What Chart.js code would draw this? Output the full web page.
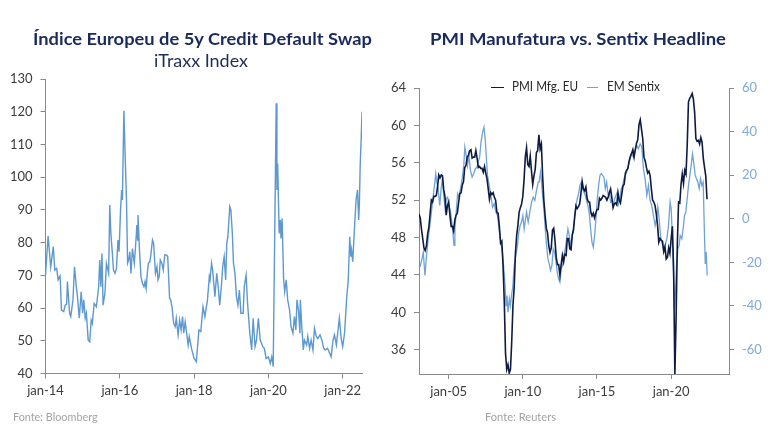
<!DOCTYPE html>
<html><head><meta charset="utf-8">
<script src="https://cdn.jsdelivr.net/npm/chart.js@4"></script>
<style>
html,body{margin:0;padding:0;background:#fff;width:768px;height:432px;overflow:hidden;font-family:Lato,"Open Sans",sans-serif;}
.t{position:absolute;white-space:nowrap;transform-origin:left top;line-height:1.2;}
canvas{position:absolute;top:0;}
.lg{position:absolute;height:1.6px;}
</style></head><body>
<canvas id="c1" width="384" height="432" style="left:0"></canvas>
<canvas id="c2" width="384" height="432" style="left:384px"></canvas>
<div id="t1" class="t" style="font-weight:700;font-size:17px;color:#1a2a5c">Índice Europeu de 5y Credit Default Swap</div>
<div id="t1s" class="t" style="font-weight:400;font-size:18px;color:#1f2d5c">iTraxx Index</div>
<div id="t2" class="t" style="font-weight:700;font-size:17px;color:#1a2a5c">PMI Manufatura vs. Sentix Headline</div>
<div id="f1" class="t" style="font-size:12px;color:#a3a3a3">Fonte: Bloomberg</div>
<div id="f2" class="t" style="font-size:12px;color:#a3a3a3">Fonte: Reuters</div>
<div id="l1" class="lg" style="left:491px;top:86.5px;width:13px;background:#0e1b40"></div>
<div id="lt1" class="t" style="font-size:13px;color:#2a2a2a">PMI Mfg. EU</div>
<div id="l2" class="lg" style="left:587px;top:86.5px;width:11px;background:#6fa3d6"></div>
<div id="lt2" class="t" style="font-size:13px;color:#2a2a2a">EM Sentix</div>
<script>
// ---------- Data: iTraxx Europe 5y (left chart) ----------
const itraxxDates = [2014.00,2014.07,2014.14,2014.21,2014.25,2014.30,2014.34,2014.39,2014.40,2014.43,2014.49,2014.53,2014.57,2014.59,2014.65,2014.68,2014.74,2014.78,2014.83,2014.86,2014.91,2014.96,
2015.00,2015.03,2015.07,2015.10,2015.15,2015.19,2015.23,2015.26,2015.31,2015.37,2015.43,2015.46,2015.49,2015.52,2015.55,2015.60,2015.64,2015.70,2015.73,2015.76,2015.80,2015.83,2015.87,2015.91,2015.95,2015.98,
2016.02,2016.05,2016.07,2016.11,2016.14,2016.18,2016.21,2016.24,2016.27,2016.30,2016.34,2016.39,2016.42,2016.46,2016.48,2016.49,2016.53,2016.57,2016.61,2016.65,2016.68,2016.71,2016.74,2016.77,2016.81,2016.83,2016.88,2016.91,2016.96,
2017.00,2017.03,2017.06,2017.09,2017.13,2017.17,2017.21,2017.26,2017.29,2017.34,2017.37,2017.41,2017.45,2017.49,2017.52,2017.57,2017.61,2017.65,2017.69,2017.72,2017.76,2017.80,2017.84,2017.87,2017.93,
2018.00,2018.06,2018.13,2018.18,2018.24,2018.29,2018.36,2018.41,2018.43,2018.47,2018.50,2018.56,2018.61,2018.65,2018.69,2018.74,2018.77,2018.81,2018.85,2018.88,2018.91,2018.96,2018.99,
2019.03,2019.06,2019.10,2019.14,2019.18,2019.22,2019.26,2019.32,2019.35,2019.40,2019.44,2019.50,2019.55,2019.59,2019.64,2019.68,2019.73,2019.78,2019.85,2019.89,2019.94,
2020.00,2020.05,2020.09,2020.13,2020.21,2020.23,2020.25,2020.29,2020.32,2020.34,2020.37,2020.41,2020.44,2020.48,2020.52,2020.57,2020.61,2020.66,2020.70,2020.74,2020.77,2020.81,2020.85,2020.86,2020.90,2020.94,2020.97,
2021.03,2021.06,2021.11,2021.15,2021.20,2021.24,2021.29,2021.33,2021.39,2021.44,2021.49,2021.53,2021.59,2021.65,2021.69,2021.74,2021.78,2021.83,2021.91,2021.96,
2022.00,2022.05,2022.11,2022.15,2022.19,2022.22,2022.24,2022.27,2022.32,2022.36,2022.40,2022.43,2022.45,2022.47,2022.50,2022.52];
const itraxxValues = [70.1,82.0,72.6,78.8,71.6,72.1,68.6,69.8,68.1,59.4,58.9,60.9,61.2,68.1,58.4,57.4,62.5,72.6,66.5,63.5,56.9,65.0,
58.4,62.5,56.9,58.4,50.2,49.7,56.3,55.3,61.4,60.4,66.5,74.7,66.5,76.7,60.9,64.5,73.7,70.6,91.5,82.8,76.7,71.6,70.6,72.1,80.8,77.2,
90.0,96.1,93.0,120.3,108.3,93.0,73.7,74.7,77.2,70.6,78.2,73.7,78.2,85.4,80.8,88.4,77.7,69.6,67.5,66.5,68.1,66.0,70.6,73.7,74.2,75.7,80.8,79.8,70.6,
72.6,68.6,69.6,74.7,73.7,71.6,76.2,76.2,75.7,63.0,62.5,59.9,55.3,54.3,56.9,51.8,56.3,53.3,57.4,52.3,55.8,52.3,48.7,51.3,47.7,
44.6,43.6,53.3,52.8,60.4,57.4,62.5,69.6,68.6,73.7,71.6,63.5,70.6,66.5,60.9,67.5,72.6,75.7,68.6,79.8,81.8,91.0,90.0,
82.8,73.7,70.6,63.5,60.9,65.5,58.4,58.4,66.5,70.1,61.4,52.3,47.2,56.9,48.2,50.2,56.9,50.2,48.2,47.7,44.6,
45.1,43.1,45.1,42.1,122.6,96.1,104.2,82.8,86.9,81.3,87.4,68.6,65.0,68.6,62.5,59.4,54.3,52.3,57.4,53.3,62.5,59.4,52.3,62.5,54.3,47.2,50.2,
48.7,51.3,47.7,50.2,47.2,53.8,51.3,50.7,51.8,50.2,47.7,47.2,47.7,46.2,45.1,50.2,51.8,48.7,56.9,50.7,
48.2,52.3,63.5,68.6,81.8,75.7,77.7,74.2,84.9,93.0,96.1,86.9,92.0,103.2,112.4,120.0];
const itraxxYTicks = [40,50,60,70,80,90,100,110,120,130];
const itraxxXTicks = [2014,2016,2018,2020,2022];
const itraxxXLabels = ['jan-14','jan-16','jan-18','jan-20','jan-22'];

// ---------- Data: PMI Manufacturing EU (monthly, from Jan 2003) ----------
const pmiStartYear = 2003;
const pmiValues = [
50.5,50.1,48.9,47.9,46.9,46.6,47.1,48.4,49.1,50.6,52.0,51.8,
52.4,52.4,52.5,53.4,54.7,54.4,54.7,54.6,53.1,52.4,50.4,51.4,
51.8,50.4,49.2,49.2,48.7,49.9,50.4,50.6,51.7,52.7,52.8,53.6,
54.0,55.5,55.7,56.6,56.8,57.3,57.4,56.5,56.6,56.6,57.3,56.5,
55.5,55.6,55.4,55.4,55.0,55.6,54.9,54.3,53.2,52.1,52.8,52.6,
52.8,52.3,52.0,50.7,50.6,49.2,47.4,47.6,45.0,41.1,35.6,33.9,
34.4,33.5,33.9,36.8,40.7,42.6,46.3,48.2,49.3,50.7,51.2,51.6,
52.4,54.2,56.6,57.6,55.8,55.6,56.7,55.1,53.7,54.6,55.3,57.1,
57.3,59.0,57.5,58.0,54.6,52.0,50.4,49.0,48.5,47.1,46.4,46.9,
48.8,49.0,47.7,45.9,45.1,45.1,44.0,45.1,46.1,45.4,46.2,46.1,
47.9,47.9,46.8,46.7,48.3,48.8,50.3,51.4,51.1,51.3,51.6,52.7,
54.0,53.2,53.0,53.4,52.2,51.8,51.8,50.7,50.3,50.6,50.1,50.6,
51.0,51.0,52.2,52.0,52.2,52.5,52.4,52.3,52.0,52.3,52.8,53.2,
52.3,51.2,51.6,51.7,51.5,52.8,52.0,51.7,52.6,53.5,53.7,54.9,
55.2,55.4,56.2,56.7,57.0,57.4,56.6,57.4,58.1,58.5,60.1,60.6,
59.6,58.6,56.6,56.2,55.5,54.9,55.1,54.6,53.2,52.0,51.8,51.4,
50.5,49.3,47.5,47.9,47.7,47.6,46.5,47.0,45.7,45.9,46.9,46.3,
47.9,49.2,44.5,33.4,39.4,47.4,51.8,51.7,53.7,54.8,53.8,55.2,
54.8,57.9,62.5,62.9,63.1,63.4,62.8,61.4,58.6,58.3,58.4,58.0,
58.7,58.2,56.5,55.5,54.6,52.1];

// ---------- Data: Sentix ----------
const sentixDates = [2003.07,2003.20,2003.29,2003.40,2003.51,2003.62,2003.73,2003.84,2003.96,
2004.07,2004.13,2004.20,2004.29,2004.40,2004.49,2004.58,2004.67,2004.76,2004.84,2004.93,
2005.02,2005.13,2005.24,2005.36,2005.42,2005.51,2005.60,2005.69,2005.80,2005.91,
2006.02,2006.09,2006.18,2006.27,2006.36,2006.47,2006.58,2006.69,2006.80,2006.91,
2007.02,2007.09,2007.18,2007.29,2007.38,2007.47,2007.53,2007.62,2007.73,2007.84,2007.96,
2008.07,2008.18,2008.29,2008.40,2008.51,2008.62,2008.71,2008.80,2008.87,2008.93,
2009.00,2009.09,2009.16,2009.24,2009.33,2009.42,2009.53,2009.64,2009.73,2009.82,2009.91,
2010.00,2010.09,2010.25,2010.36,2010.47,2010.59,2010.70,2010.81,2010.92,
2011.04,2011.10,2011.19,2011.26,2011.33,2011.42,2011.51,2011.60,2011.69,2011.78,2011.87,2011.96,
2012.05,2012.14,2012.23,2012.32,2012.41,2012.50,2012.59,2012.68,2012.77,2012.86,2012.95,
2013.04,2013.13,2013.22,2013.31,2013.40,2013.49,2013.58,2013.67,2013.76,2013.85,2013.94,
2014.03,2014.12,2014.21,2014.30,2014.39,2014.48,2014.57,2014.66,2014.75,2014.84,2014.93,
2015.02,2015.11,2015.20,2015.29,2015.38,2015.47,2015.56,2015.65,2015.74,2015.83,2015.92,
2016.01,2016.10,2016.19,2016.28,2016.37,2016.46,2016.55,2016.64,2016.73,2016.82,2016.91,
2017.00,2017.12,2017.23,2017.34,2017.45,2017.57,2017.68,2017.79,2017.91,
2018.02,2018.13,2018.24,2018.36,2018.47,2018.58,2018.69,2018.81,2018.92,
2019.03,2019.10,2019.19,2019.28,2019.37,2019.48,2019.59,2019.71,2019.82,2019.93,
2020.00,2020.07,2020.14,2020.23,2020.29,2020.36,2020.45,2020.54,2020.61,2020.72,2020.83,2020.90,2020.99,
2021.08,2021.17,2021.26,2021.35,2021.44,2021.53,2021.62,2021.71,2021.80,2021.89,2021.98,
2022.07,2022.16,2022.23,2022.30,2022.36,2022.43];
const sentixValues = [-22.2,-18.4,-15.3,-26,-16.8,-9.2,-3.1,3.1,10.7,
16.8,20.7,16.8,13.8,6.1,13.8,18.4,10.7,4.6,9.2,9.9,
6.1,3.1,-3.1,-12.2,-4.6,3.1,11.5,9.9,13.8,18.4,
24.5,32.9,29.1,24.5,29.1,22.2,19.1,20.7,23,23.7,
26.8,28.3,35.2,39.8,42.1,36,29.1,19.9,15.3,10.7,5.4,
6.9,3.1,1.5,-4.6,-10.7,-15.3,-22.2,-30.6,-39.8,-35.2,
-42.8,-36.7,-39.8,-35.2,-30.6,-21.4,-16.8,-12.2,-6.1,-3.1,-1.5,
1.5,-4.6,3.1,-1.5,3.1,7.7,9.9,8.4,13,
16.8,16.8,21.4,16.8,10.7,4.6,-4.6,-12.2,-18.4,-20.7,-23.7,-21.4,
-13.8,-15.3,-19.1,-24.5,-27.5,-29.1,-23,-21.4,-16.8,-13.8,-9.2,
-4.6,-7.7,-12.2,-9.2,-4.6,0,6.1,9.2,11.5,15.3,16.8,
13.8,12.2,10.7,8.4,6.1,2.3,-4.6,-10.7,-13,-7.7,0,
9.2,15.3,19.9,20.7,19.9,19.1,13.8,16.8,11.5,12.2,7.7,
8.4,6.1,9.2,10.7,12.2,6.9,9.2,13.8,15.3,18.4,19.9,
21.4,24.5,27.5,29.8,28.3,31.4,33.7,32.1,34.4,
32.9,23,18.4,10.7,15.3,8.4,6.1,1.5,-3.1,
0.8,5.4,0,-7.7,-10.7,-13.8,-12.2,-9.2,-3.1,7.7,
4.6,-6.1,-21.4,-41.3,-33.7,-21.4,-13.8,-12.2,-7.7,-9.2,-3.1,1.5,3.1,
9.2,15.3,19.9,24.5,29.8,25.3,19.9,18.4,16.8,13.8,18.4,
15.3,16.8,-3.1,-20.7,-15.3,-26];
const pmiYTicks = [36,40,44,48,52,56,60,64];
const sentixYTicks = [-60,-40,-20,0,20,40,60];
const macroXTicks = [2005,2010,2015,2020];
const macroXLabels = ['jan-05','jan-10','jan-15','jan-20'];

// ---------- Helpers ----------
const AXIS = '#8a8a8a';
const FONT = {family:'Lato', size:13};
function axis(color, extra){
  return Object.assign({
    border:{display:true,color:AXIS,width:1},
    grid:{display:true,drawOnChartArea:false,drawTicks:true,tickLength:5,color:AXIS,lineWidth:1},
    ticks:{color:color,font:FONT,padding:8,autoSkip:false,maxRotation:0}
  }, extra);
}
function setTicks(list){ return s => { s.ticks = list.map(v => ({value:v})); }; }
function pts(xs, ys){ return ys.map((y,i) => ({x:xs[i], y:y})); }

// ---------- Left chart ----------
const x1 = axis('#3c3c3c', {type:'linear', min:2014.0, max:2022.52,
  afterBuildTicks:setTicks(itraxxXTicks), afterFit:s=>{s.height=30;}});
x1.ticks.callback = v => itraxxXLabels[itraxxXTicks.indexOf(v)];
x1.ticks.padding = 5;
const y1 = axis('#3c3c3c', {type:'linear', min:40, max:130,
  afterBuildTicks:setTicks(itraxxYTicks), afterFit:s=>{s.width=45.5;}});

new Chart(document.getElementById('c1'), {
  type:'line',
  data:{datasets:[{label:'iTraxx Index', data:pts(itraxxDates, itraxxValues),
    borderColor:'#5d98cf', borderWidth:1.4, pointRadius:0, tension:0}]},
  options:{responsive:false, animation:false, devicePixelRatio:1,
    layout:{padding:{left:0,right:22,top:79,bottom:28.5}},
    plugins:{legend:{display:false}, tooltip:{enabled:false}},
    scales:{x:x1, y:y1}}
});

// ---------- Right chart ----------
const pmiDates = pmiValues.map((_,i) => pmiStartYear + i/12);
const x2 = axis('#3c3c3c', {type:'linear', min:2003.0, max:2023.9,
  afterBuildTicks:setTicks(macroXTicks), afterFit:s=>{s.height=30;}});
x2.ticks.callback = v => macroXLabels[macroXTicks.indexOf(v)];
x2.ticks.padding = 5;
const yl = axis('#3c3c3c', {type:'linear', position:'left', min:33.4, max:64,
  afterBuildTicks:setTicks(pmiYTicks), afterFit:s=>{s.width=35;}});
const yr = axis('#7faad6', {type:'linear', position:'right', min:-71.2, max:60,
  afterBuildTicks:setTicks(sentixYTicks), afterFit:s=>{s.width=39;}});

new Chart(document.getElementById('c2'), {
  type:'line',
  data:{datasets:[
    {label:'PMI Mfg. EU', data:pts(pmiDates, pmiValues), yAxisID:'y',
     borderColor:'#0e1b40', borderWidth:1.6, pointRadius:0, tension:0},
    {label:'EM Sentix', data:pts(sentixDates, sentixValues), yAxisID:'y1',
     borderColor:'#6fa3d6', borderWidth:1.3, pointRadius:0, tension:0}
  ]},
  options:{responsive:false, animation:false, devicePixelRatio:1,
    layout:{padding:{left:0,right:0,top:88,bottom:28}},
    plugins:{legend:{display:false}, tooltip:{enabled:false}},
    scales:{x:x2, y:yl, y1:yr}}
});

// ---------- Text placement ----------
function place(id, left, width, baseline, fs){
  const el = document.getElementById(id);
  el.style.transform = 'none';
  el.style.left = left + 'px';
  el.style.top = (baseline - 0.987*fs) + 'px';
  const w = el.getBoundingClientRect().width;
  el.style.transform = 'scaleX(' + (width / w) + ')';
}
function layoutText(){
  place('t1', 33, 339, 45.3, 17);
  place('t1s', 154, 94, 67.5, 18);
  place('t2', 430, 296, 45.5, 17);
  place('f1', 12.7, 84.6, 422.3, 12);
  place('f2', 485, 71, 422.3, 12);
  place('lt1', 512, 66, 91.7, 13);
  place('lt2', 606.5, 53, 91.7, 13);
}
layoutText();
if (document.fonts && document.fonts.ready) document.fonts.ready.then(layoutText);
</script>
</body></html>
